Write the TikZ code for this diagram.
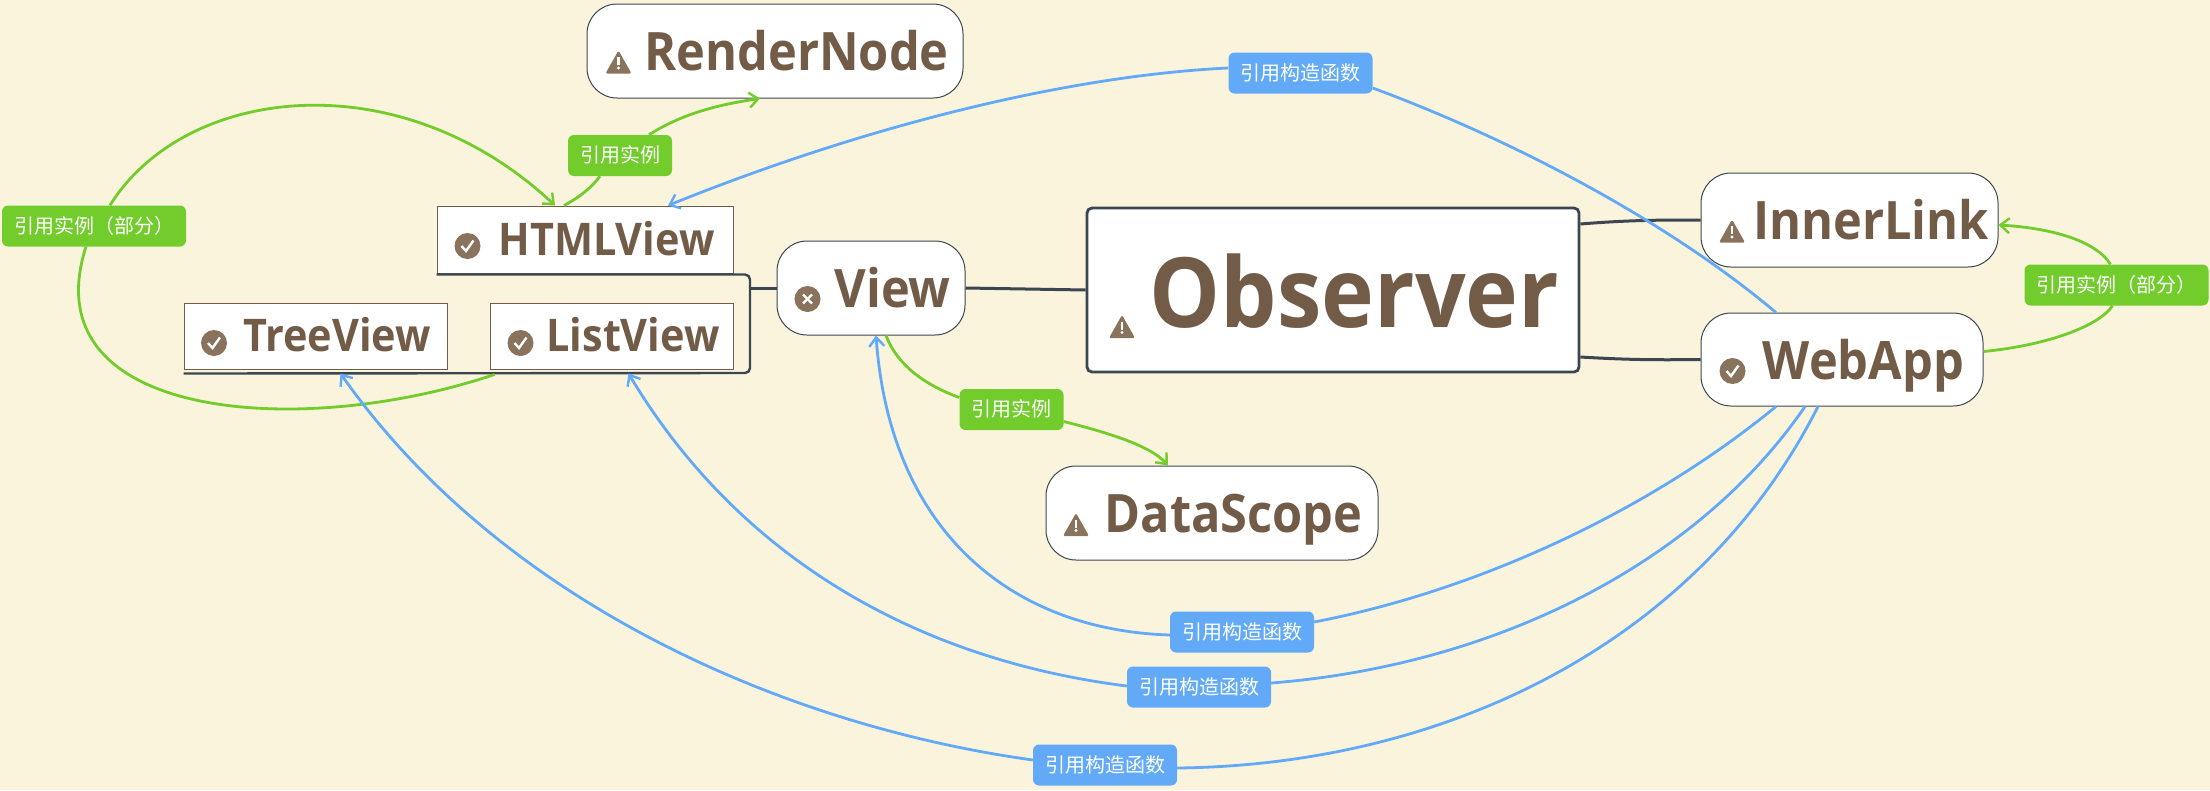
\documentclass[tikz,border=0pt]{standalone}
\usepackage{fontspec}
\setmainfont[FakeStretch=0.92]{Open Sans}
\newfontfamily\cjkfont{Noto Sans CJK SC}
\usetikzlibrary{
    arrows.meta,
    calc
}
\definecolor{paper}{RGB}{251,244,220}
\definecolor{ink}{RGB}{114,92,71}
\definecolor{iconink}{RGB}{138,115,93}
\definecolor{slate}{RGB}{60,70,80}
\definecolor{refgreen}{RGB}{113,204,44}
\definecolor{refblue}{RGB}{98,170,248}
\tikzset{
    line cap=round,
    line join=round,
    topic/.style={
        rectangle,
        draw=slate,
        fill=white,
        line width=1pt,
        rounded corners=30pt,
        text=ink,
        inner sep=0pt,
        text height=39.5pt,
        text depth=0pt,
        font=\bfseries\fontsize{53}{58}\selectfont
    },
    plainbox/.style={
        topic,
        draw=ink,
        rounded corners=0pt,
        text height=31.5pt,
        font=\bfseries\fontsize{45}{50}\selectfont
    },
    rootbox/.style={
        topic,
        line width=2.8pt,
        rounded corners=5pt,
        text height=74pt,
        font=\bfseries\fontsize{97}{105}\selectfont
    },
    tag/.style={
        rectangle,
        rounded corners=6pt,
        text=white,
        inner sep=0pt,
        minimum height=41pt,
        text height=16pt,
        text depth=2pt,
        font=\cjkfont\fontsize{20}{24}\selectfont
    },
    greentag/.style={tag, fill=refgreen},
    bluetag/.style={tag, fill=refblue, minimum width=144pt},
    branch/.style={
        draw=slate,
        line width=3pt
    },
    greenlink/.style={
        draw=refgreen,
        line width=2.8pt
    },
    bluelink/.style={
        draw=refblue,
        line width=2.8pt
    },
    tipped/.style={
        -{Straight Barb[length=9pt,width=15pt,line width=2.4pt]}
    },
    warnicon/.pic={
        \fill[iconink, rounded corners=1.5pt] (-13pt,-11.5pt) -- (13pt,-11.5pt) -- (0pt,11.5pt) -- cycle;
        \fill[white] (-1.4pt,-3pt) rectangle (1.4pt,5pt);
        \fill[white] (0pt,-6pt) circle (1.6pt);
    },
    checkicon/.pic={
        \fill[iconink] (0pt,0pt) circle (13pt);
        \draw[white, line width=2.4pt] (-6pt,0pt) -- (-1.5pt,-5pt) -- (6pt,5.5pt);
    },
    crossicon/.pic={
        \fill[iconink] (0pt,0pt) circle (13pt);
        \draw[white, line width=2.4pt] (-4.5pt,-4.5pt) -- (4.5pt,4.5pt);
        \draw[white, line width=2.4pt] (-4.5pt,4.5pt) -- (4.5pt,-4.5pt);
    }
}
\begin{document}
\begin{tikzpicture}[x=1pt, y=-1pt]

% Page
\fill[paper] (0,0) rectangle (2210,790);
\useasboundingbox (0,0) rectangle (2210,790);

% === Topics ===
\node[rootbox, minimum width=492pt, minimum height=164pt] (observer) at (1333,290) {\hspace*{43pt}Observer};
\node[topic, minimum width=376pt, minimum height=94pt] (rendernode) at (775,51) {\hspace*{43pt}RenderNode};
\node[topic, minimum width=188pt, minimum height=94pt] (view) at (871,288) {\hspace*{43pt}View};
\node[topic, minimum width=297pt, minimum height=94pt] (innerlink) at (1849.5,220) {\hspace*{43pt}InnerLink};
\node[topic, minimum width=282pt, minimum height=93pt] (webapp) at (1842,359.5) {\hspace*{43pt}WebApp};
\node[topic, minimum width=332pt, minimum height=94pt] (datascope) at (1212,513) {\hspace*{43pt}DataScope};
\node[plainbox, minimum width=296pt, minimum height=67pt] (htmlview) at (585,239.5) {\hspace*{43pt}HTMLView};
\node[plainbox, minimum width=263pt, minimum height=66pt] (treeview) at (315.5,336) {\hspace*{43pt}TreeView};
\node[plainbox, minimum width=243pt, minimum height=66pt] (listview) at (611.5,336) {\hspace*{43pt}ListView};

% Icons
\pic at (618.5,62) {warnicon};
\pic at (1122,326.5) {warnicon};
\pic at (1732,231) {warnicon};
\pic at (1076,524.5) {warnicon};
\pic at (467.5,246) {checkicon};
\pic at (214,343) {checkicon};
\pic at (520.5,343) {checkicon};
\pic at (1732.5,371) {checkicon};
\pic at (807.5,299) {crossicon};

% === Tags ===
\node[greentag, minimum width=104pt] (taghtml) at (620,155.5) {引用实例};
\node[greentag, minimum width=184pt] (tagloop) at (94,226) {引用实例（部分）};
\node[greentag, minimum width=104pt] (tagview) at (1011.5,409.5) {引用实例};
\node[greentag, minimum width=184pt] (taginner) at (2116.5,285) {引用实例（部分）};
\node[bluetag] (tagtop) at (1300.5,73) {引用构造函数};
\node[bluetag] (tagviewb) at (1242,632) {引用构造函数};
\node[bluetag] (taglist) at (1199,687) {引用构造函数};
\node[bluetag] (tagtree) at (1105,765) {引用构造函数};

% Tree lines
\coordinate (bracketmid) at (750,288);
\coordinate (bracketlow) at (750,373);
\draw[branch] (observer.west) -- (view.east);
\draw[branch] (view.west) -- (bracketmid);
\draw[branch, line width=2.4pt, rounded corners=5pt] ([yshift=-1pt]htmlview.south west) -| (bracketlow) -- ([yshift=-4pt]treeview.south west);
\draw[branch] ([yshift=66pt]observer.east) .. controls (1630,220) and (1660,220) .. (innerlink.west);
\draw[branch] ([yshift=-67pt]observer.east) .. controls (1630,360) and (1660,360) .. (webapp.west);

% Green links
\draw[greenlink] ([xshift=-21pt]htmlview.north) .. controls (580,197) and (592,187) .. ([xshift=-20pt]taghtml.south);
\draw[greenlink, tipped] ([xshift=29pt]taghtml.north) .. controls (680,115) and (715,105) .. ([xshift=-15pt]rendernode.south);
\draw[greenlink] ([xshift=-117pt,yshift=-5pt]listview.south) .. controls (300,440) and (30,420) .. ([xshift=-8pt]tagloop.south);
\draw[greenlink, tipped] ([xshift=16pt]tagloop.north) .. controls (185,85) and (400,60) .. ([xshift=-30pt]htmlview.north);
\draw[greenlink] ([xshift=15pt]view.south) .. controls (897,365) and (925,385) .. ([yshift=12pt]tagview.west);
\draw[greenlink, tipped] ([yshift=-12pt]tagview.east) .. controls (1105,432) and (1150,445) .. ([xshift=-44pt]datascope.north);
\draw[greenlink] ([yshift=8pt]webapp.east) .. controls (2050,345) and (2100,325) .. ([xshift=-4pt]taginner.south);
\draw[greenlink, tipped] ([xshift=-6pt]taginner.north) .. controls (2095,240) and (2050,228) .. ([yshift=-5pt]innerlink.east);

% Blue links
\draw[bluelink] ([xshift=-66pt]webapp.north) .. controls (1660,215) and (1500,135) .. ([yshift=-15pt]tagtop.east);
\draw[bluelink, tipped] ([yshift=5pt]tagtop.west) .. controls (1080,75) and (880,120) .. ([xshift=83pt]htmlview.north);
\draw[bluelink] ([xshift=-66pt]webapp.south) .. controls (1650,510) and (1480,590) .. ([yshift=10pt]tagviewb.east);
\draw[bluelink, tipped] ([yshift=-3pt]tagviewb.west) .. controls (1010,630) and (890,530) .. ([xshift=5pt]view.south);
\draw[bluelink] ([xshift=-37pt]webapp.south) .. controls (1700,560) and (1500,665) .. ([yshift=4pt]taglist.east);
\draw[bluelink, tipped] ([yshift=1pt]taglist.west) .. controls (920,660) and (740,560) .. ([xshift=17pt,yshift=-4pt]listview.south);
\draw[bluelink] ([xshift=-24pt]webapp.south) .. controls (1700,640) and (1450,765) .. ([yshift=-3pt]tagtree.east);
\draw[bluelink, tipped] ([yshift=5pt]tagtree.west) .. controls (780,725) and (500,600) .. ([xshift=25pt,yshift=-4pt]treeview.south);

\end{tikzpicture}
\end{document}
